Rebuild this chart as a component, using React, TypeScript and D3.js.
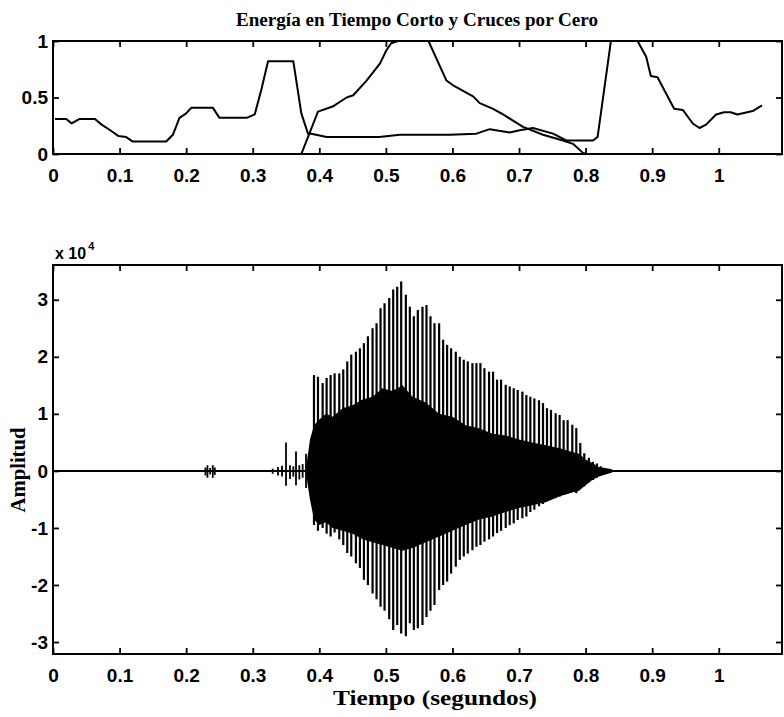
import React, { useRef, useEffect } from 'react';
import * as d3 from 'd3';

const WIDTH = 784;
const HEIGHT = 717;

const title = 'Energía en Tiempo Corto y Cruces por Cero';
const xLabel = 'Tiempo (segundos)';
const yLabel = 'Amplitud';

const timeTicks = [0, 0.1, 0.2, 0.3, 0.4, 0.5, 0.6, 0.7, 0.8, 0.9, 1];
const normTicks = [0, 0.5, 1];
const ampTicks = [-3, -2, -1, 0, 1, 2, 3];

// cruces por cero (normalizado)
const zcrTimes = [0.003, 0.02, 0.028, 0.04, 0.063, 0.073, 0.086, 0.098, 0.11, 0.12, 0.17, 0.18, 0.19, 0.2, 0.208,
	0.24, 0.25, 0.291, 0.303, 0.313, 0.323, 0.361, 0.373, 0.383, 0.388, 0.411, 0.49, 0.521, 0.596, 0.636, 0.656,
	0.686, 0.701, 0.721, 0.751, 0.771, 0.811, 0.818, 0.838, 0.85, 0.868, 0.878, 0.891, 0.898, 0.908, 0.933, 0.946,
	0.961, 0.971, 0.981, 0.996, 1.008, 1.018, 1.028, 1.051, 1.065];
const zcrValues = [0.31, 0.31, 0.27, 0.31, 0.31, 0.26, 0.21, 0.16, 0.15, 0.11, 0.11, 0.17, 0.32, 0.36, 0.41,
	0.41, 0.32, 0.32, 0.35, 0.57, 0.82, 0.82, 0.36, 0.18, 0.18, 0.15, 0.15, 0.17, 0.17, 0.18, 0.22,
	0.19, 0.21, 0.23, 0.18, 0.12, 0.12, 0.15, 1.0, 1.25, 1.25, 1.0, 0.86, 0.69, 0.68, 0.4, 0.39,
	0.27, 0.23, 0.26, 0.35, 0.37, 0.37, 0.35, 0.38, 0.43];

// energía en tiempo corto (normalizada)
const energyTimes = [0, 0.373, 0.398, 0.42, 0.441, 0.451, 0.471, 0.491, 0.501, 0.508, 0.518, 0.564, 0.591,
	0.603, 0.631, 0.641, 0.661, 0.676, 0.706, 0.736, 0.766, 0.781, 0.796, 0.801, 1.065];
const energyValues = [0, 0, 0.375, 0.42, 0.5, 0.52, 0.65, 0.8, 0.92, 0.98, 1.0, 1.0, 0.65,
	0.6, 0.51, 0.45, 0.4, 0.35, 0.24, 0.17, 0.12, 0.09, 0.01, 0, 0];

// señal (x 10^4): picos de cada periodo de pitch
const pulseTimes = [0.392, 0.398, 0.405, 0.411, 0.417, 0.423, 0.430, 0.436, 0.442, 0.448,
	0.455, 0.461, 0.467, 0.473, 0.480, 0.486, 0.492, 0.498, 0.505, 0.511,
	0.517, 0.523, 0.530, 0.536, 0.542, 0.548, 0.555, 0.561, 0.567, 0.573,
	0.580, 0.586, 0.592, 0.598, 0.605, 0.611, 0.617, 0.623, 0.630, 0.636,
	0.642, 0.648, 0.655, 0.661, 0.667, 0.673, 0.680, 0.686, 0.692, 0.698,
	0.705, 0.711, 0.717, 0.723, 0.730, 0.736, 0.742, 0.748, 0.755, 0.761,
	0.767, 0.773, 0.780, 0.786, 0.792, 0.798, 0.805, 0.811, 0.817, 0.823];
const pulseTops = [1.68, 1.65, 1.54, 1.63, 1.68, 1.71, 1.71, 1.78, 1.92, 2.04,
	2.09, 2.15, 2.24, 2.36, 2.50, 2.59, 2.85, 2.94, 3.03, 3.18,
	3.23, 3.32, 3.09, 2.88, 2.71, 2.82, 2.88, 2.91, 2.71, 2.59,
	2.59, 2.30, 2.21, 2.15, 2.09, 2.00, 1.95, 1.92, 1.89, 1.89,
	1.89, 1.80, 1.74, 1.74, 1.60, 1.60, 1.51, 1.48, 1.45, 1.42,
	1.39, 1.33, 1.30, 1.27, 1.24, 1.19, 1.10, 1.07, 1.01, 0.98,
	0.89, 0.89, 0.81, 0.75, 0.49, 0.31, 0.23, 0.16, 0.13, 0.08];
const pulseBottoms = [-0.95, -1.05, -1.00, -1.10, -1.15, -1.08, -1.20, -1.30, -1.44, -1.50,
	-1.62, -1.70, -1.91, -2.00, -2.15, -2.25, -2.38, -2.45, -2.60, -2.79,
	-2.70, -2.85, -2.90, -2.67, -2.79, -2.76, -2.70, -2.56, -2.45, -2.35,
	-2.09, -2.00, -1.94, -1.80, -1.68, -1.56, -1.50, -1.45, -1.39, -1.33,
	-1.30, -1.24, -1.20, -1.15, -1.09, -1.05, -1.00, -0.95, -0.92, -0.86,
	-0.83, -0.80, -0.72, -0.68, -0.62, -0.58, -0.53, -0.50, -0.48, -0.45,
	-0.42, -0.38, -0.36, -0.39, -0.30, -0.27, -0.20, -0.16, -0.12, -0.07];

// zona densa de la señal
const coreTimes = [0.380, 0.386, 0.392, 0.400, 0.410, 0.420, 0.435, 0.450, 0.465, 0.480, 0.495, 0.510, 0.525,
	0.540, 0.560, 0.580, 0.600, 0.620, 0.640, 0.660, 0.680, 0.700, 0.720, 0.740, 0.760, 0.780, 0.790, 0.800,
	0.810, 0.820, 0.840];
const coreUpper = [0.05, 0.55, 0.8, 0.9, 1.0, 0.95, 1.1, 1.15, 1.25, 1.3, 1.45, 1.4, 1.5,
	1.3, 1.2, 1.0, 0.95, 0.8, 0.75, 0.65, 0.62, 0.55, 0.5, 0.45, 0.4, 0.33, 0.3, 0.2,
	0.14, 0.07, 0.03];
const coreLower = [-0.05, -0.5, -0.85, -0.95, -0.9, -1.0, -1.05, -1.1, -1.2, -1.25, -1.3, -1.35, -1.4,
	-1.35, -1.25, -1.15, -1.05, -0.95, -0.85, -0.8, -0.72, -0.65, -0.6, -0.55, -0.45, -0.38, -0.35, -0.25,
	-0.16, -0.1, -0.03];

// transitorios antes de la parte sonora
const blipTimes = [0.229, 0.232, 0.236, 0.240, 0.243, 0.330, 0.338, 0.344, 0.350, 0.356, 0.361, 0.365, 0.370, 0.375, 0.380];
const blipTops = [0.06, 0.10, 0.05, 0.10, 0.06, 0.04, 0.07, 0.09, 0.50, 0.10, 0.08, 0.34, 0.10, 0.12, 0.30];
const blipBottoms = [-0.08, -0.12, -0.06, -0.12, -0.07, -0.05, -0.08, -0.10, -0.26, -0.14, -0.10, -0.25, -0.15, -0.12, -0.30];

const FONT_TICK = '"Liberation Sans Narrow", "Liberation Sans", Arial, sans-serif';
const FONT_SERIF = '"Liberation Serif", "Times New Roman", serif';

const left = 53;
const right = 782;
const topBox = { top: 41, bottom: 154 };
const botBox = { top: 265, bottom: 654 };

const styleAxis = (g) => {
	g.select('.domain').remove();
	g.selectAll('line').attr('stroke', '#000').attr('stroke-width', 1.8);
	g.selectAll('text')
		.attr('fill', '#000')
		.attr('font-family', FONT_TICK)
		.attr('font-weight', 'bold')
		.attr('font-size', 19);
};

const fmt = (d) => String(d);

const drawAxes = (svg, x, y, box, yTicks) => {
	svg.append('g')
		.attr('transform', `translate(0,${ box.bottom })`)
		.call(d3.axisBottom(x).tickValues(timeTicks).tickFormat(fmt)
			.tickSizeInner(-6).tickSizeOuter(0).tickPadding(15))
		.call(styleAxis);
	svg.append('g')
		.attr('transform', `translate(0,${ box.top })`)
		.call(d3.axisTop(x).tickValues(timeTicks).tickFormat(() => '')
			.tickSizeInner(-6).tickSizeOuter(0))
		.call(styleAxis);
	svg.append('g')
		.attr('transform', `translate(${ left },0)`)
		.call(d3.axisLeft(y).tickValues(yTicks).tickFormat(fmt)
			.tickSizeInner(-6).tickSizeOuter(0).tickPadding(5))
		.call(styleAxis);
	svg.append('g')
		.attr('transform', `translate(${ right },0)`)
		.call(d3.axisRight(y).tickValues(yTicks).tickFormat(() => '')
			.tickSizeInner(-6).tickSizeOuter(0))
		.call(styleAxis);
	svg.append('rect')
		.attr('x', left).attr('y', box.top)
		.attr('width', right - left).attr('height', box.bottom - box.top)
		.attr('fill', 'none').attr('stroke', '#000').attr('stroke-width', 2);
};

const renderChart = (el) => {
	const svg = d3.select(el);
	svg.selectAll('*').remove();
	svg.attr('width', WIDTH).attr('height', HEIGHT);
	svg.append('rect').attr('width', WIDTH).attr('height', HEIGHT).attr('fill', '#fff');

	const x = d3.scaleLinear().domain([0, 1.095]).range([left, right]);
	const yNorm = d3.scaleLinear().domain([0, 1]).range([topBox.bottom, topBox.top]);
	const yAmp = d3.scaleLinear().domain([-3.21, 3.61]).range([botBox.bottom, botBox.top]);

	const defs = svg.append('defs');
	defs.append('clipPath').attr('id', 'clip-top').append('rect')
		.attr('x', left).attr('y', topBox.top).attr('width', right - left).attr('height', topBox.bottom - topBox.top);
	defs.append('clipPath').attr('id', 'clip-bot').append('rect')
		.attr('x', left).attr('y', botBox.top).attr('width', right - left).attr('height', botBox.bottom - botBox.top);

	// grafico superior
	const line = d3.line().x((d) => x(d[0])).y((d) => yNorm(d[1]));
	const gTop = svg.append('g').attr('clip-path', 'url(#clip-top)');
	gTop.append('path')
		.attr('d', line(zcrTimes.map((t, i) => [t, zcrValues[i]])))
		.attr('fill', 'none').attr('stroke', '#000').attr('stroke-width', 2).attr('stroke-linejoin', 'round');
	gTop.append('path')
		.attr('d', line(energyTimes.map((t, i) => [t, energyValues[i]])))
		.attr('fill', 'none').attr('stroke', '#000').attr('stroke-width', 2).attr('stroke-linejoin', 'round');
	drawAxes(svg, x, yNorm, topBox, normTicks);

	svg.append('text')
		.text(title)
		.attr('x', 417).attr('y', 26)
		.attr('text-anchor', 'middle')
		.attr('font-family', FONT_SERIF).attr('font-weight', 'bold').attr('font-size', 18)
		.attr('textLength', 362).attr('lengthAdjust', 'spacingAndGlyphs');

	// grafico inferior
	const gBot = svg.append('g').attr('clip-path', 'url(#clip-bot)');
	gBot.append('line')
		.attr('x1', x(0)).attr('x2', x(1.095))
		.attr('y1', yAmp(0)).attr('y2', yAmp(0))
		.attr('stroke', '#000').attr('stroke-width', 2);

	const area = d3.area()
		.x((d) => x(d[0]))
		.y0((d) => yAmp(d[2]))
		.y1((d) => yAmp(d[1]));
	gBot.append('path')
		.attr('d', area(coreTimes.map((t, i) => [t, coreUpper[i], coreLower[i]])))
		.attr('fill', '#000');

	gBot.selectAll('line.pulse')
		.data(pulseTimes.map((t, i) => ({ t, top: pulseTops[i], bottom: pulseBottoms[i] })))
		.join('line')
		.attr('class', 'pulse')
		.attr('x1', (d) => x(d.t)).attr('x2', (d) => x(d.t))
		.attr('y1', (d) => yAmp(d.bottom)).attr('y2', (d) => yAmp(d.top))
		.attr('stroke', '#000').attr('stroke-width', 2.2);

	gBot.selectAll('line.blip')
		.data(blipTimes.map((t, i) => ({ t, top: blipTops[i], bottom: blipBottoms[i] })))
		.join('line')
		.attr('class', 'blip')
		.attr('x1', (d) => x(d.t)).attr('x2', (d) => x(d.t))
		.attr('y1', (d) => yAmp(d.bottom)).attr('y2', (d) => yAmp(d.top))
		.attr('stroke', '#000').attr('stroke-width', 1.8);

	drawAxes(svg, x, yAmp, botBox, ampTicks);

	const exp = svg.append('text')
		.attr('x', 55).attr('y', 259)
		.attr('font-family', FONT_TICK).attr('font-weight', 'bold').attr('font-size', 16);
	exp.append('tspan').text('x 10');
	exp.append('tspan').text('4').attr('dy', -9).attr('dx', 2).attr('font-size', 11);

	svg.append('text')
		.text(xLabel)
		.attr('x', 435).attr('y', 705)
		.attr('text-anchor', 'middle')
		.attr('font-family', FONT_SERIF).attr('font-weight', 'bold').attr('font-size', 22)
		.attr('textLength', 204).attr('lengthAdjust', 'spacingAndGlyphs');

	svg.append('text')
		.text(yLabel)
		.attr('transform', 'translate(25,470) rotate(-90)')
		.attr('text-anchor', 'middle')
		.attr('font-family', FONT_SERIF).attr('font-weight', 'bold').attr('font-size', 20)
		.attr('textLength', 85).attr('lengthAdjust', 'spacingAndGlyphs');
};

const App = () => {
	const ref = useRef(null);

	useEffect(() => {
		renderChart(ref.current);
	}, []);

	return (
		<div style={ { position: 'absolute', left: 0, top: 0 } }>
			<svg ref={ ref } style={ { display: 'block' } }/>
		</div>
	);
};

export default App;
